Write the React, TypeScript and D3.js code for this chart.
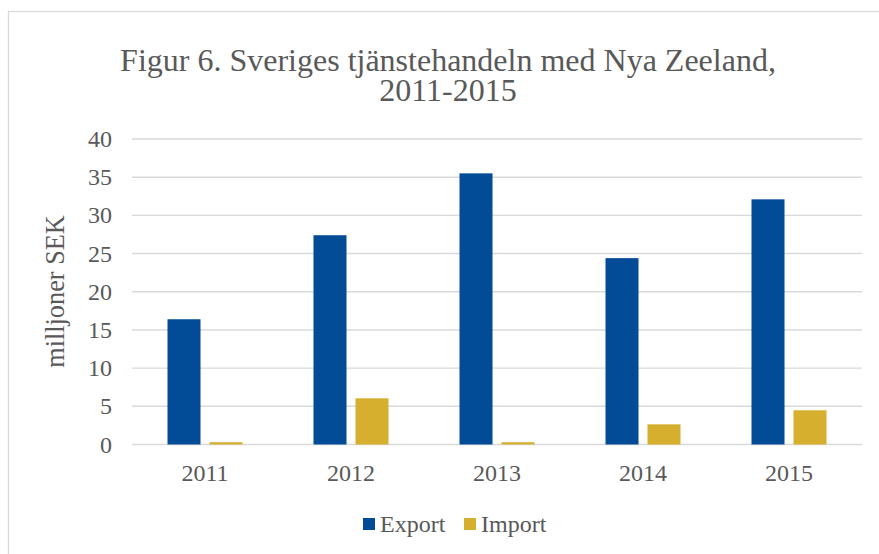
import React from "react";
import * as d3 from "d3";

const years = ["2011", "2012", "2013", "2014", "2015"];
const series = ["Export", "Import"];
const exportValues = [16.4, 27.4, 35.5, 24.4, 32.1];
const importValues = [0.3, 6.05, 0.3, 2.64, 4.48];
const yTicks = [0, 5, 10, 15, 20, 25, 30, 35, 40];
const colors = ["#024B96", "#D6AF2F"];
const titleLines = ["Figur 6. Sveriges tjänstehandeln med Nya Zeeland,", "2011-2015"];
const yLabel = "milljoner SEK";

const W = 879;
const H = 554;
const FONT = "'Liberation Serif', 'Times New Roman', serif";
const TEXT = "#595959";

export default function App() {
  const x0 = d3.scaleBand<string>().domain(years).range([132, 862]).padding(0);
  const x1 = d3.scaleBand<string>().domain(series).range([-37.5, 37.5]).paddingInner(0.214);
  const y = d3.scaleLinear().domain([0, 40]).range([444.5, 139]);
  const values = [exportValues, importValues];

  return (
    <svg
      width={W}
      height={H}
      style={{ position: "absolute", left: 0, top: 0, background: "#fff" }}
      fontFamily={FONT}
    >
      <rect x={8.5} y={11.5} width={W} height={H} fill="#fff" stroke="#d9d9d9" strokeWidth={1.3} />
      {titleLines.map((t, i) => (
        <text key={i} x={448} y={71 + i * 30} textAnchor="middle" fontSize={32} fill={TEXT}>
          {t}
        </text>
      ))}
      {yTicks.map((t) => (
        <g key={t}>
          <line x1={132} x2={862} y1={y(t)} y2={y(t)} stroke="#d9d9d9" strokeWidth={1.4} />
          <text x={112} y={y(t) + 8} textAnchor="end" fontSize={24} fill={TEXT}>
            {t}
          </text>
        </g>
      ))}
      {years.map((yr, i) => {
        const c = (x0(yr) as number) + x0.bandwidth() / 2;
        return (
          <g key={yr}>
            {series.map((s, j) => (
              <rect
                key={s}
                x={c + (x1(s) as number)}
                y={y(values[j][i])}
                width={x1.bandwidth()}
                height={y(0) - y(values[j][i])}
                fill={colors[j]}
              />
            ))}
            <text x={c} y={481} textAnchor="middle" fontSize={24} fill={TEXT}>
              {yr}
            </text>
          </g>
        );
      })}
      <text
        transform={`translate(64,291.5) rotate(-90)`}
        textAnchor="middle"
        fontSize={26.3}
        fill={TEXT}
      >
        {yLabel}
      </text>
      {series.map((s, j) => {
        const lx = j === 0 ? 363 : 464;
        return (
          <g key={s}>
            <rect x={lx} y={518} width={12} height={12} fill={colors[j]} />
            <text x={lx + 17} y={532} fontSize={24} fill={TEXT}>
              {s}
            </text>
          </g>
        );
      })}
    </svg>
  );
}
